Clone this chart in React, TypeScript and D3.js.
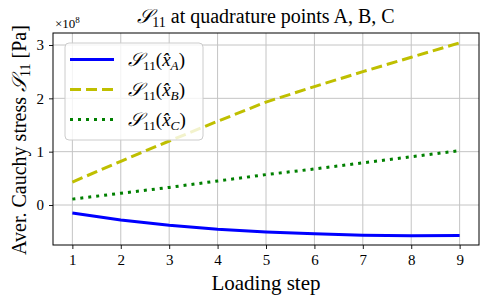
import React, { useEffect, useRef } from "react";
import * as d3 from "d3";

// loading steps and averaged stress values (in units of 1e8 Pa)
const steps = [1, 2, 3, 4, 5, 6, 7, 8, 9];
const stressA = [-0.15, -0.28, -0.38, -0.455, -0.505, -0.54, -0.565, -0.575, -0.572];
const stressB = [0.43, 0.82, 1.2, 1.57, 1.93, 2.22, 2.5, 2.77, 3.04];
const stressC = [0.11, 0.22, 0.33, 0.45, 0.57, 0.675, 0.79, 0.905, 1.02];
const yTicks = [0, 1, 2, 3];
const seriesNames = ["A", "B", "C"];

const serif = "'Liberation Serif', 'DejaVu Serif', serif";

export default function App() {
  const svgRef = useRef<SVGSVGElement>(null);

  useEffect(() => {
    const width = 489;
    const height = 303;
    const margin = { top: 33, right: 10, bottom: 58, left: 53 };

    const svg = d3.select(svgRef.current).attr("width", width).attr("height", height);
    svg.selectAll("*").remove();

    const x = d3
      .scaleLinear()
      .domain([0.6, 9.4])
      .range([margin.left, width - margin.right]);
    const y = d3
      .scaleLinear()
      .domain([-0.75, 3.225])
      .range([height - margin.bottom, margin.top]);

    // grid
    const grid = svg.append("g");
    grid.selectAll(".gx")
      .data(steps)
      .enter()
      .append("line")
      .attr("x1", d => x(d))
      .attr("x2", d => x(d))
      .attr("y1", y.range()[0])
      .attr("y2", y.range()[1])
      .attr("stroke", "#c4c4c4")
      .attr("stroke-width", 1);
    grid.selectAll(".gy")
      .data(yTicks)
      .enter()
      .append("line")
      .attr("x1", x.range()[0])
      .attr("x2", x.range()[1])
      .attr("y1", d => y(d))
      .attr("y2", d => y(d))
      .attr("stroke", "#c4c4c4")
      .attr("stroke-width", 1);

    // lines
    const series = [
      { vals: stressA, color: "#0000ff", dash: null },
      { vals: stressB, color: "#bfbf00", dash: "11,5" },
      { vals: stressC, color: "#008000", dash: "3,5" },
    ];
    const line = d3.line<number>()
      .x((_, i) => x(steps[i]))
      .y(d => y(d));
    series.forEach(s => {
      svg.append("path")
        .datum(s.vals)
        .attr("fill", "none")
        .attr("stroke", s.color)
        .attr("stroke-width", 3)
        .attr("stroke-dasharray", s.dash)
        .attr("d", line);
    });

    // axes
    const xAxis = svg.append("g")
      .attr("transform", `translate(0,${height - margin.bottom})`)
      .call(d3.axisBottom(x).tickValues(steps).tickSize(4).tickPadding(5).tickFormat(d3.format("d")));
    const yAxis = svg.append("g")
      .attr("transform", `translate(${margin.left},0)`)
      .call(d3.axisLeft(y).tickValues(yTicks).tickSize(4).tickPadding(5).tickFormat(d3.format("d")));
    [xAxis, yAxis].forEach(a => {
      a.select(".domain").remove();
      a.selectAll("text").attr("font-family", serif).attr("font-size", 15).attr("fill", "#000");
      a.selectAll("line").attr("stroke", "#000").attr("stroke-width", 0.9);
    });

    // frame
    svg.append("rect")
      .attr("x", margin.left)
      .attr("y", margin.top)
      .attr("width", width - margin.left - margin.right)
      .attr("height", height - margin.top - margin.bottom)
      .attr("fill", "none")
      .attr("stroke", "#000")
      .attr("stroke-width", 1);

    // math label helper: S_11 (x̂_K)
    const addS = (t: any, sub: string | null) => {
      t.append("tspan").attr("font-style", "italic").text("𝒮");
      t.append("tspan").attr("font-size", "0.7em").attr("dy", 4).text("11");
      if (sub) {
        t.append("tspan").attr("dy", -4).text("(");
        t.append("tspan").attr("font-style", "italic").text("x̂");
        t.append("tspan").attr("font-size", "0.7em").attr("font-style", "italic").attr("dy", 4).text(sub);
        t.append("tspan").attr("dy", -4).text(")");
      }
    };

    // legend
    const lg = svg.append("g");
    lg.append("rect")
      .attr("x", 65)
      .attr("y", 43)
      .attr("width", 138)
      .attr("height", 97)
      .attr("rx", 4)
      .attr("fill", "rgba(255,255,255,0.8)")
      .attr("stroke", "#cccccc")
      .attr("stroke-width", 1);
    series.forEach((s, i) => {
      const ly = 59.5 + i * 30;
      lg.append("line")
        .attr("x1", 70)
        .attr("x2", 114)
        .attr("y1", ly)
        .attr("y2", ly)
        .attr("stroke", s.color)
        .attr("stroke-width", 3)
        .attr("stroke-dasharray", s.dash);
      const t = lg.append("text")
        .attr("x", 128)
        .attr("y", ly + 6)
        .attr("font-family", serif)
        .attr("font-size", 19);
      addS(t, seriesNames[i]);
    });

    // title
    const title = svg.append("text")
      .attr("x", 266)
      .attr("y", 23)
      .attr("text-anchor", "middle")
      .attr("font-family", serif)
      .attr("font-size", 20);
    addS(title, null);
    title.append("tspan").attr("dy", -4).text(" at quadrature points A, B, C");

    // offset text
    const off = svg.append("text")
      .attr("x", 55)
      .attr("y", 28)
      .attr("font-family", serif)
      .attr("font-size", 13);
    off.append("tspan").text("×10");
    off.append("tspan").attr("font-size", 9).attr("dy", -5).text("8");

    // axis labels
    svg.append("text")
      .attr("x", 266)
      .attr("y", 290)
      .attr("text-anchor", "middle")
      .attr("font-family", serif)
      .attr("font-size", 21)
      .text("Loading step");
    const yl = svg.append("text")
      .attr("transform", `translate(26,${140}) rotate(-90)`)
      .attr("text-anchor", "middle")
      .attr("font-family", serif)
      .attr("font-size", 20);
    yl.append("tspan").text("Aver. Cauchy stress ");
    addS(yl, null);
    yl.append("tspan").attr("dy", -4).text(" [Pa]");
  }, []);

  return (
    <div>
      <svg ref={svgRef} style={{ position: "absolute", left: 0, top: 0 }}></svg>
    </div>
  );
}
